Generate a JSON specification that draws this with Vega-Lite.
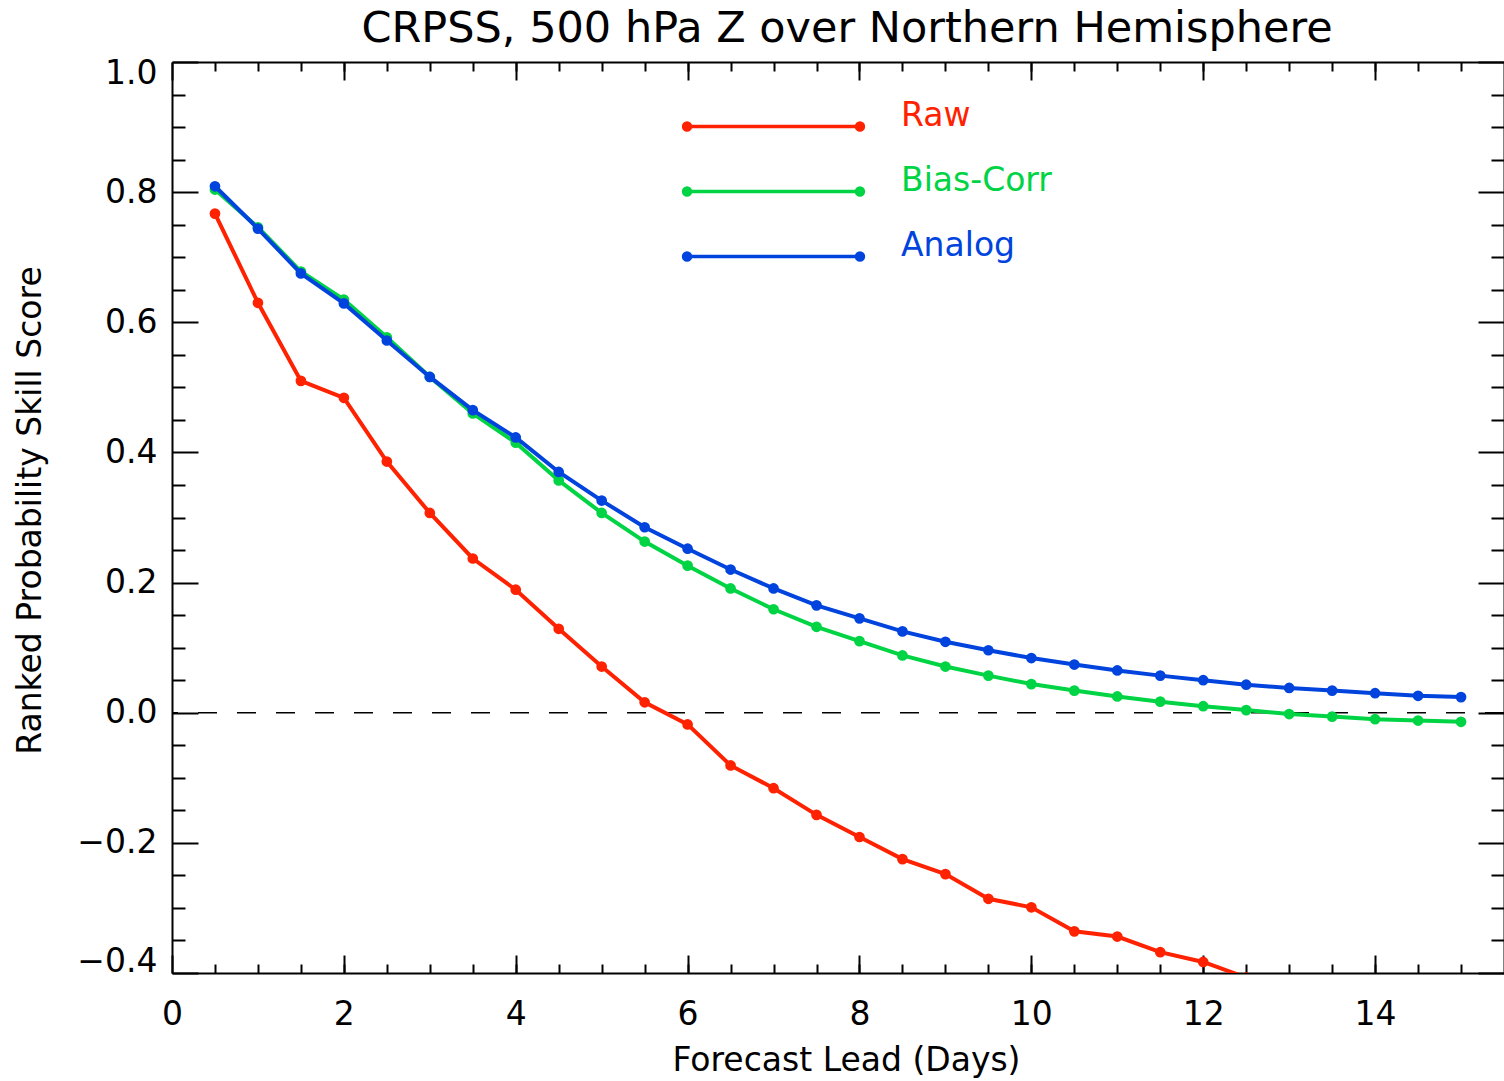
{
  "$schema": "https://vega.github.io/schema/vega-lite/v6.json",
  "width": 1332,
  "height": 911,
  "autosize": {"type": "none"},
  "padding": {"left": 172, "top": 62, "right": 0, "bottom": 108},
  "background": "white",
  "config": {
    "font": "DejaVu Sans",
    "view": {"stroke": null},
    "axis": {
      "grid": false,
      "domainColor": "black",
      "tickColor": "black",
      "domainWidth": 2,
      "tickWidth": 2,
      "labelColor": "black",
      "titleColor": "black",
      "labelFontSize": 33,
      "titleFontSize": 33,
      "labelFont": "DejaVu Sans",
      "titleFont": "DejaVu Sans",
      "titleFontWeight": "normal"
    }
  },
  "title": {
    "text": "CRPSS, 500 hPa Z over Northern Hemisphere",
    "fontSize": 43,
    "fontWeight": "normal",
    "font": "DejaVu Sans",
    "color": "black",
    "anchor": "middle",
    "baseline": "alphabetic",
    "offset": -28,
    "dx": 9
  },
  "data": {
    "values": [
      {"series": "Raw", "day": 0.5, "score": 0.767},
      {"series": "Raw", "day": 1.0, "score": 0.630},
      {"series": "Raw", "day": 1.5, "score": 0.510},
      {"series": "Raw", "day": 2.0, "score": 0.484},
      {"series": "Raw", "day": 2.5, "score": 0.386},
      {"series": "Raw", "day": 3.0, "score": 0.307},
      {"series": "Raw", "day": 3.5, "score": 0.237},
      {"series": "Raw", "day": 4.0, "score": 0.189},
      {"series": "Raw", "day": 4.5, "score": 0.129},
      {"series": "Raw", "day": 5.0, "score": 0.071},
      {"series": "Raw", "day": 5.5, "score": 0.016},
      {"series": "Raw", "day": 6.0, "score": -0.018},
      {"series": "Raw", "day": 6.5, "score": -0.081},
      {"series": "Raw", "day": 7.0, "score": -0.116},
      {"series": "Raw", "day": 7.5, "score": -0.157},
      {"series": "Raw", "day": 8.0, "score": -0.191},
      {"series": "Raw", "day": 8.5, "score": -0.225},
      {"series": "Raw", "day": 9.0, "score": -0.248},
      {"series": "Raw", "day": 9.5, "score": -0.286},
      {"series": "Raw", "day": 10.0, "score": -0.299},
      {"series": "Raw", "day": 10.5, "score": -0.336},
      {"series": "Raw", "day": 11.0, "score": -0.344},
      {"series": "Raw", "day": 11.5, "score": -0.368},
      {"series": "Raw", "day": 12.0, "score": -0.383},
      {"series": "Raw", "day": 12.5, "score": -0.407},
      {"series": "Bias-Corr", "day": 0.5, "score": 0.804},
      {"series": "Bias-Corr", "day": 1.0, "score": 0.746},
      {"series": "Bias-Corr", "day": 1.5, "score": 0.678},
      {"series": "Bias-Corr", "day": 2.0, "score": 0.635},
      {"series": "Bias-Corr", "day": 2.5, "score": 0.577},
      {"series": "Bias-Corr", "day": 3.0, "score": 0.516},
      {"series": "Bias-Corr", "day": 3.5, "score": 0.460},
      {"series": "Bias-Corr", "day": 4.0, "score": 0.415},
      {"series": "Bias-Corr", "day": 4.5, "score": 0.357},
      {"series": "Bias-Corr", "day": 5.0, "score": 0.307},
      {"series": "Bias-Corr", "day": 5.5, "score": 0.263},
      {"series": "Bias-Corr", "day": 6.0, "score": 0.226},
      {"series": "Bias-Corr", "day": 6.5, "score": 0.191},
      {"series": "Bias-Corr", "day": 7.0, "score": 0.159},
      {"series": "Bias-Corr", "day": 7.5, "score": 0.132},
      {"series": "Bias-Corr", "day": 8.0, "score": 0.110},
      {"series": "Bias-Corr", "day": 8.5, "score": 0.088},
      {"series": "Bias-Corr", "day": 9.0, "score": 0.071},
      {"series": "Bias-Corr", "day": 9.5, "score": 0.057},
      {"series": "Bias-Corr", "day": 10.0, "score": 0.044},
      {"series": "Bias-Corr", "day": 10.5, "score": 0.034},
      {"series": "Bias-Corr", "day": 11.0, "score": 0.025},
      {"series": "Bias-Corr", "day": 11.5, "score": 0.017},
      {"series": "Bias-Corr", "day": 12.0, "score": 0.010},
      {"series": "Bias-Corr", "day": 12.5, "score": 0.004},
      {"series": "Bias-Corr", "day": 13.0, "score": -0.002},
      {"series": "Bias-Corr", "day": 13.5, "score": -0.006},
      {"series": "Bias-Corr", "day": 14.0, "score": -0.010},
      {"series": "Bias-Corr", "day": 14.5, "score": -0.012},
      {"series": "Bias-Corr", "day": 15.0, "score": -0.014},
      {"series": "Analog", "day": 0.5, "score": 0.809},
      {"series": "Analog", "day": 1.0, "score": 0.744},
      {"series": "Analog", "day": 1.5, "score": 0.675},
      {"series": "Analog", "day": 2.0, "score": 0.629},
      {"series": "Analog", "day": 2.5, "score": 0.572},
      {"series": "Analog", "day": 3.0, "score": 0.516},
      {"series": "Analog", "day": 3.5, "score": 0.465},
      {"series": "Analog", "day": 4.0, "score": 0.423},
      {"series": "Analog", "day": 4.5, "score": 0.370},
      {"series": "Analog", "day": 5.0, "score": 0.326},
      {"series": "Analog", "day": 5.5, "score": 0.285},
      {"series": "Analog", "day": 6.0, "score": 0.252},
      {"series": "Analog", "day": 6.5, "score": 0.220},
      {"series": "Analog", "day": 7.0, "score": 0.191},
      {"series": "Analog", "day": 7.5, "score": 0.165},
      {"series": "Analog", "day": 8.0, "score": 0.145},
      {"series": "Analog", "day": 8.5, "score": 0.125},
      {"series": "Analog", "day": 9.0, "score": 0.109},
      {"series": "Analog", "day": 9.5, "score": 0.096},
      {"series": "Analog", "day": 10.0, "score": 0.084},
      {"series": "Analog", "day": 10.5, "score": 0.074},
      {"series": "Analog", "day": 11.0, "score": 0.065},
      {"series": "Analog", "day": 11.5, "score": 0.057},
      {"series": "Analog", "day": 12.0, "score": 0.050},
      {"series": "Analog", "day": 12.5, "score": 0.043},
      {"series": "Analog", "day": 13.0, "score": 0.038},
      {"series": "Analog", "day": 13.5, "score": 0.034},
      {"series": "Analog", "day": 14.0, "score": 0.030},
      {"series": "Analog", "day": 14.5, "score": 0.026},
      {"series": "Analog", "day": 15.0, "score": 0.024}
    ]
  },
  "layer": [
    {
      "data": {"values": [{}]},
      "mark": {"type": "rule", "strokeDash": [19, 20], "strokeWidth": 1.5, "color": "black"},
      "encoding": {
        "y": {"datum": 0, "type": "quantitative", "scale": {"domain": [-0.4, 1.0], "nice": false, "zero": false}, "axis": null}
      }
    },
    {
      "transform": [{"filter": "datum.series === 'Raw'"}],
      "mark": {"type": "line", "strokeWidth": 4, "clip": true},
      "encoding": {
        "x": {
          "field": "day", "type": "quantitative",
          "scale": {"domain": [0, 15.5], "nice": false, "zero": false},
          "axis": {
            "orient": "bottom",
            "values": [0, 2, 4, 6, 8, 10, 12, 14],
            "format": "d",
            "tickSize": -18,
            "labelPadding": 43,
            "labelFlush": false,
            "title": "Forecast Lead (Days)",
            "titleX": 674,
            "titleY": 97,
            "titleAlign": "center",
            "titleBaseline": "alphabetic"
          }
        },
        "y": {
          "field": "score", "type": "quantitative",
          "scale": {"domain": [-0.4, 1.0], "nice": false, "zero": false},
          "axis": {
            "orient": "left",
            "values": [-0.4, -0.2, 0, 0.2, 0.4, 0.6, 0.8, 1.0],
            "format": ".1f",
            "tickSize": -26,
            "labelPadding": 41,
            "labelFlush": true,
            "labelFlushOffset": 5,
            "title": "Ranked Probability Skill Score",
            "titleX": -132,
            "titleY": 448,
            "titleAngle": 270,
            "titleAlign": "center",
            "titleBaseline": "alphabetic"
          }
        },
        "color": {
          "field": "series", "type": "nominal",
          "scale": {"domain": ["Raw", "Bias-Corr", "Analog"], "range": ["#ff2200", "#00d444", "#0044dd"]},
          "legend": {
            "orient": "none",
            "legendX": 585,
            "legendY": 37,
            "title": null,
            "direction": "vertical",
            "padding": 0,
            "offset": 0,
            "symbolType": "M-10,1.27L10,1.27M-10.4,1.27a0.4,0.4 0 1,0 0.8,0a0.4,0.4 0 1,0 -0.8,0M9.6,1.27a0.4,0.4 0 1,0 0.8,0a0.4,0.4 0 1,0 -0.8,0",
            "symbolSize": 299,
            "symbolStrokeWidth": 3.5,
            "labelFontSize": 33,
            "labelFont": "DejaVu Sans",
            "labelOffset": 111,
            "rowPadding": 27,
            "encode": {
              "symbols": {"update": {"fill": {"scale": "color", "field": "value"}, "stroke": {"scale": "color", "field": "value"}, "opacity": {"value": 1}}},
              "labels": {"update": {"fill": {"scale": "color", "field": "value"}}}
            }
          }
        }
      }
    },
    {
      "transform": [{"filter": "datum.series === 'Raw'"}],
      "mark": {"type": "circle", "size": 115, "opacity": 1, "clip": true},
      "encoding": {
        "x": {
          "field": "day", "type": "quantitative",
          "scale": {"domain": [0, 15.5], "nice": false, "zero": false},
          "axis": {"orient": "bottom", "values": [0.5, 1, 1.5, 2, 2.5, 3, 3.5, 4, 4.5, 5, 5.5, 6, 6.5, 7, 7.5, 8, 8.5, 9, 9.5, 10, 10.5, 11, 11.5, 12, 12.5, 13, 13.5, 14, 14.5, 15], "tickSize": -9, "labels": false, "domain": false, "title": null}
        },
        "y": {
          "field": "score", "type": "quantitative",
          "scale": {"domain": [-0.4, 1.0], "nice": false, "zero": false},
          "axis": {"orient": "left", "values": [-0.35, -0.3, -0.25, -0.15, -0.1, -0.05, 0.05, 0.1, 0.15, 0.25, 0.3, 0.35, 0.45, 0.5, 0.55, 0.65, 0.7, 0.75, 0.85, 0.9, 0.95], "tickSize": -13, "labels": false, "domain": false, "title": null}
        },
        "color": {"field": "series", "type": "nominal", "legend": null}
      }
    },
    {
      "transform": [{"filter": "datum.series === 'Bias-Corr'"}],
      "mark": {"type": "line", "strokeWidth": 4, "clip": true},
      "encoding": {
        "x": {
          "field": "day", "type": "quantitative",
          "scale": {"domain": [0, 15.5], "nice": false, "zero": false},
          "axis": {"orient": "top", "values": [0, 2, 4, 6, 8, 10, 12, 14], "tickSize": -18, "labels": false, "title": null}
        },
        "y": {
          "field": "score", "type": "quantitative",
          "scale": {"domain": [-0.4, 1.0], "nice": false, "zero": false},
          "axis": {"orient": "right", "values": [-0.4, -0.2, 0, 0.2, 0.4, 0.6, 0.8, 1.0], "tickSize": -26, "labels": false, "title": null}
        },
        "color": {"field": "series", "type": "nominal", "legend": null}
      }
    },
    {
      "transform": [{"filter": "datum.series === 'Bias-Corr'"}],
      "mark": {"type": "circle", "size": 115, "opacity": 1, "clip": true},
      "encoding": {
        "x": {
          "field": "day", "type": "quantitative",
          "scale": {"domain": [0, 15.5], "nice": false, "zero": false},
          "axis": {"orient": "top", "values": [0.5, 1, 1.5, 2, 2.5, 3, 3.5, 4, 4.5, 5, 5.5, 6, 6.5, 7, 7.5, 8, 8.5, 9, 9.5, 10, 10.5, 11, 11.5, 12, 12.5, 13, 13.5, 14, 14.5, 15], "tickSize": -9, "labels": false, "domain": false, "title": null}
        },
        "y": {
          "field": "score", "type": "quantitative",
          "scale": {"domain": [-0.4, 1.0], "nice": false, "zero": false},
          "axis": {"orient": "right", "values": [-0.35, -0.3, -0.25, -0.15, -0.1, -0.05, 0.05, 0.1, 0.15, 0.25, 0.3, 0.35, 0.45, 0.5, 0.55, 0.65, 0.7, 0.75, 0.85, 0.9, 0.95], "tickSize": -13, "labels": false, "domain": false, "title": null}
        },
        "color": {"field": "series", "type": "nominal", "legend": null}
      }
    },
    {
      "transform": [{"filter": "datum.series === 'Analog'"}],
      "mark": {"type": "line", "strokeWidth": 4, "clip": true},
      "encoding": {
        "x": {"field": "day", "type": "quantitative", "scale": {"domain": [0, 15.5], "nice": false, "zero": false}, "axis": null},
        "y": {"field": "score", "type": "quantitative", "scale": {"domain": [-0.4, 1.0], "nice": false, "zero": false}, "axis": null},
        "color": {"field": "series", "type": "nominal", "legend": null}
      }
    },
    {
      "transform": [{"filter": "datum.series === 'Analog'"}],
      "mark": {"type": "circle", "size": 115, "opacity": 1, "clip": true},
      "encoding": {
        "x": {"field": "day", "type": "quantitative", "scale": {"domain": [0, 15.5], "nice": false, "zero": false}, "axis": null},
        "y": {"field": "score", "type": "quantitative", "scale": {"domain": [-0.4, 1.0], "nice": false, "zero": false}, "axis": null},
        "color": {"field": "series", "type": "nominal", "legend": null}
      }
    }
  ],
  "resolve": {"axis": {"x": "independent", "y": "independent"}}
}
